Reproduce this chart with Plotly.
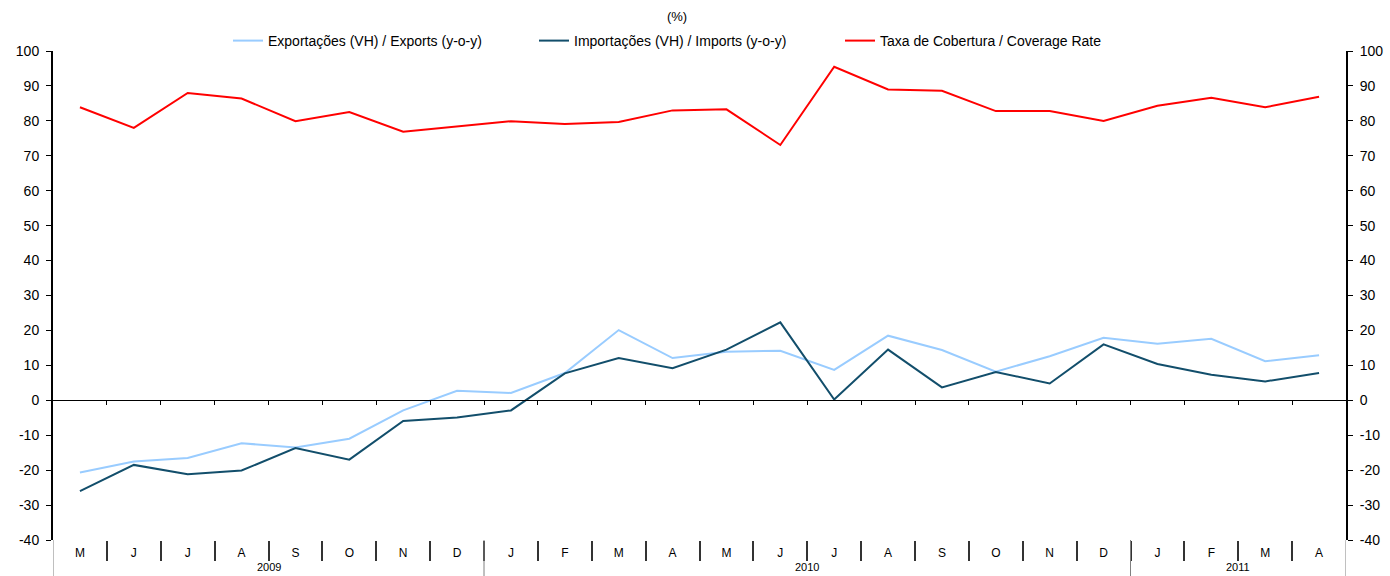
import plotly.graph_objects as go

months = ["M", "J", "J", "A", "S", "O", "N", "D",
          "J", "F", "M", "A", "M", "J", "J", "A", "S", "O", "N", "D",
          "J", "F", "M", "A"]
years = ["2009"] * 8 + ["2010"] * 12 + ["2011"] * 4

exports = [-20.7, -17.5, -16.5, -12.3, -13.5, -11.0, -2.9, 2.7,
           2.1, 7.8, 20.1, 12.1, 13.9, 14.2, 8.7, 18.5, 14.4, 8.2, 12.6, 17.9,
           16.2, 17.6, 11.2, 12.9]
imports = [-26.0, -18.5, -21.2, -20.1, -13.7, -17.0, -5.9, -4.9,
           -2.9, 7.7, 12.1, 9.2, 14.5, 22.3, 0.2, 14.5, 3.7, 8.1, 4.8, 16.0,
           10.4, 7.3, 5.4, 7.8]
coverage = [83.9, 78.0, 88.0, 86.4, 79.9, 82.5, 76.9, 78.4,
            79.9, 79.1, 79.7, 83.0, 83.3, 73.1, 95.5, 89.0, 88.6, 82.8, 82.8, 80.0,
            84.3, 86.6, 83.9, 86.9]

y_ticks = [-40, -30, -20, -10, 0, 10, 20, 30, 40, 50, 60, 70, 80, 90, 100]
y_ticktext = ["-40", "-30", "-20", "-10", "0", "10", "20", "30", "40", "50",
              "60", "70", "80", "90", "100"]

names = ["Exportações (VH) / Exports (y-o-y)",
         "Importações (VH) / Imports (y-o-y)",
         "Taxa de Cobertura / Coverage Rate"]

FONT = "Liberation Sans, Arial, sans-serif"
x = list(range(len(months)))
n = len(months)
bounds = [i + 0.5 for i in range(n - 1)]

# year group boundaries and centres
year_bounds = [-0.5]
year_centres = []
start = 0
for i in range(1, n + 1):
    if i == n or years[i] != years[i - 1]:
        year_bounds.append(i - 0.5)
        year_centres.append(((start + i - 1) / 2, years[i - 1]))
        start = i

fig = go.Figure()
fig.add_trace(go.Scatter(x=x, y=exports, name=names[0], mode="lines",
                         line=dict(color="#99CCFF", width=2)))
fig.add_trace(go.Scatter(x=x, y=imports, name=names[1], mode="lines",
                         line=dict(color="#124E6B", width=2)))
fig.add_trace(go.Scatter(x=x, y=coverage, name=names[2], mode="lines",
                         line=dict(color="#FF0000", width=2), yaxis="y2"))
# carrier for the zero-line axis
fig.add_trace(go.Scatter(x=x, y=exports, mode="lines", xaxis="x2",
                         line=dict(width=0), opacity=0, showlegend=False,
                         hoverinfo="skip"))

H = 576
plot_h = 540 - 51
yr = [y_ticks[0], y_ticks[-1]]

shapes = []
for b in year_bounds:
    shapes.append(dict(type="line", xref="x", yref="paper", x0=b, x1=b,
                       y0=0, y1=-(576 - 540) / plot_h,
                       line=dict(color="#808080", width=1)))

annotations = []
for cx, label in year_centres:
    annotations.append(dict(x=cx, xref="x", y=-(567 - 540) / plot_h, yref="paper",
                            text=label, showarrow=False, yanchor="middle",
                            font=dict(family=FONT, size=11, color="black")))

yaxis_common = dict(range=yr, tickmode="array", tickvals=y_ticks, ticktext=y_ticktext,
                    showgrid=False, zeroline=False,
                    showline=True, linewidth=2, linecolor="black",
                    ticks="outside", ticklen=5, tickwidth=1, tickcolor="black",
                    ticklabelstandoff=4,
                    tickfont=dict(family=FONT, size=14, color="black"))

fig.update_layout(
    width=1390, height=H,
    margin=dict(l=53, r=44, t=51, b=36, autoexpand=False),
    paper_bgcolor="white", plot_bgcolor="white",
    font=dict(family=FONT, size=14, color="black"),
    title=dict(text="(%)", x=677 / 1390, xanchor="center", xref="container",
               y=1 - 16 / H, yref="container", yanchor="middle",
               font=dict(family=FONT, size=13, color="black")),
    showlegend=True,
    legend=dict(orientation="h", xref="container", yref="container",
                x=228 / 1390, xanchor="left", y=1 - 41 / H, yanchor="middle",
                entrywidth=261, entrywidthmode="pixels",
                font=dict(family=FONT, size=14, color="black"),
                bgcolor="rgba(0,0,0,0)"),
    xaxis=dict(range=[-0.5, n - 0.5], tickmode="array", tickvals=x, ticktext=months,
               showgrid=False, zeroline=False, showline=False, ticks="",
               ticklabelstandoff=4,
               tickfont=dict(family=FONT, size=12, color="black"),
               minor=dict(tickmode="array", tickvals=bounds, ticks="outside",
                          ticklen=20, tickwidth=1.5, tickcolor="#333333",
                          showgrid=False)),
    xaxis2=dict(range=[-0.5, n - 0.5], overlaying="x", anchor="free",
                position=(0 - yr[0]) / (yr[1] - yr[0]), side="bottom",
                showgrid=False, zeroline=False, showline=True, linewidth=1,
                linecolor="black", tickmode="array", tickvals=bounds,
                ticks="outside", ticklen=4, tickwidth=1, tickcolor="black",
                showticklabels=False),
    yaxis=dict(**yaxis_common),
    yaxis2=dict(overlaying="y", side="right", **yaxis_common),
    shapes=shapes,
    annotations=annotations,
)

fig.write_html("out.html", config={"displayModeBar": False},
               post_script="document.body.style.margin='0';")
